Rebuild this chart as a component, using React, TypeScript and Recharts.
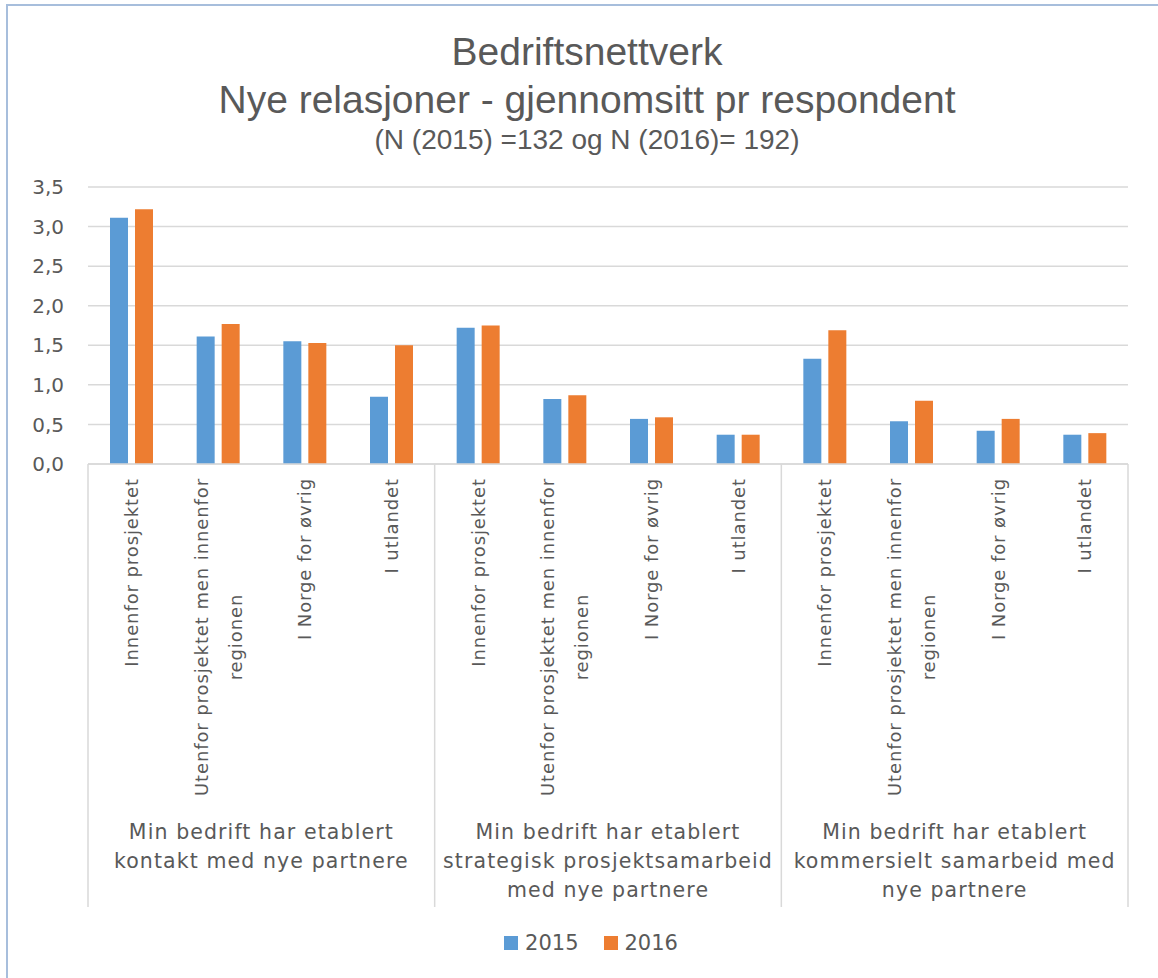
import React from 'react';
import { BarChart, Bar, XAxis, YAxis, CartesianGrid, Legend } from 'recharts';

const titleLines = [
  'Bedriftsnettverk',
  'Nye relasjoner - gjennomsitt pr respondent',
  '(N (2015) =132 og N (2016)= 192)',
];
const groupLabels: string[][] = [
  ['Min bedrift har etablert', 'kontakt med nye partnere'],
  ['Min bedrift har etablert', 'strategisk prosjektsamarbeid', 'med nye partnere'],
  ['Min bedrift har etablert', 'kommersielt samarbeid med', 'nye partnere'],
];
const subCategories: string[][] = [
  ['Innenfor prosjektet'],
  ['Utenfor prosjektet men innenfor', 'regionen'],
  ['I Norge for øvrig'],
  ['I utlandet'],
];
const seriesNames = ['2015', '2016'];
const values2015 = [3.11, 1.61, 1.55, 0.85, 1.72, 0.82, 0.57, 0.37, 1.33, 0.54, 0.42, 0.37];
const values2016 = [3.22, 1.77, 1.53, 1.5, 1.75, 0.87, 0.59, 0.37, 1.69, 0.8, 0.57, 0.39];
const yTicks = [0, 0.5, 1, 1.5, 2, 2.5, 3, 3.5];

const COLORS = ['#5B9BD5', '#ED7D31'];
const TEXT = '#595959';
const GRID = '#d9d9d9';
const BODY_FONT = '"DejaVu Sans", "Open Sans", sans-serif';
const TITLE_FONT = '"Liberation Sans Narrow", "Arial Narrow", "Liberation Sans", sans-serif';
const CAT_SIZE = 18;
const CAT_SPACING = 0.9;
const GROUP_SIZE = 20.5;
const GROUP_SPACING = 1.1;

const data = values2015.map((v, i) => ({
  key: 'c' + i,
  v2015: v,
  v2016: values2016[i],
}));

let ctx: CanvasRenderingContext2D | null = null;
function measure(text: string, size: number, spacing: number): number {
  if (!ctx) {
    const c = document.createElement('canvas');
    ctx = c.getContext('2d');
  }
  const extra = spacing * text.length;
  if (!ctx) return text.length * size * 0.6 + extra;
  ctx.font = `${size}px ${BODY_FONT}`;
  return ctx.measureText(text).width + extra;
}

const CategoryTick = (props: any) => {
  const { x, y, payload } = props;
  const idx: number = payload?.index ?? props.index ?? 0;
  const half: number = payload?.offset ?? 43.33;
  const lines = subCategories[idx % 4];
  const maxLen = Math.max(...lines.map((l) => measure(l, CAT_SIZE, CAT_SPACING)));
  const top = y + 14;
  const cy = top + maxLen / 2;
  const lineGap = 34;
  const sepLen = 443;
  const elems: React.ReactNode[] = [];
  lines.forEach((l, j) => {
    const cx = x + (j - (lines.length - 1) / 2) * lineGap;
    elems.push(
      <text
        key={'t' + j}
        transform={`translate(${cx}, ${cy}) rotate(-90)`}
        textAnchor="middle"
        dominantBaseline="central"
        fontSize={CAT_SIZE}
        letterSpacing={CAT_SPACING}
        fill={TEXT}
        fontFamily={BODY_FONT}
      >
        {l}
      </text>
    );
  });
  if (idx % 4 === 0) {
    elems.push(<line key="sepL" x1={x - half} x2={x - half} y1={y} y2={y + sepLen} stroke={GRID} strokeWidth={1.5} />);
  }
  if (idx === data.length - 1) {
    elems.push(<line key="sepR" x1={x + half} x2={x + half} y1={y} y2={y + sepLen} stroke={GRID} strokeWidth={1.5} />);
  }
  if (idx % 4 === 1) {
    const g = groupLabels[Math.floor(idx / 4)];
    g.forEach((l, j) => {
      elems.push(
        <text
          key={'g' + j}
          x={x + half}
          y={y + 368 + j * 29}
          textAnchor="middle"
          dominantBaseline="central"
          fontSize={GROUP_SIZE}
          letterSpacing={GROUP_SPACING}
          fill={TEXT}
          fontFamily={BODY_FONT}
        >
          {l}
        </text>
      );
    });
  }
  return <g>{elems}</g>;
};

const LegendContent = () => (
  <div style={{ height: 60, paddingTop: 23, paddingLeft: 54, boxSizing: 'border-box', display: 'flex', justifyContent: 'center', alignItems: 'flex-start' }}>
    {seriesNames.map((n, i) => (
      <div key={n} style={{ display: 'flex', alignItems: 'center', marginRight: i === 0 ? 25 : 0, height: 22 }}>
        <div style={{ width: 14, height: 14, background: COLORS[i], marginRight: 7 }} />
        <span style={{ fontFamily: BODY_FONT, fontSize: 21, color: TEXT, lineHeight: '22px' }}>{n}</span>
      </div>
    ))}
  </div>
);

export default function App() {
  return (
    <div style={{ position: 'absolute', left: 0, top: 0, width: 1158, height: 978, background: '#fff', overflow: 'hidden' }}>
      <div
        style={{
          position: 'absolute',
          left: 6,
          top: 4,
          width: 1160,
          height: 990,
          borderTop: '2px solid #a7bedc',
          borderLeft: '2px solid #a7bedc',
          boxSizing: 'border-box',
        }}
      />
      <div style={{ position: 'absolute', left: 0, top: 0, width: 1158, textAlign: 'center', color: TEXT, fontFamily: TITLE_FONT }}>
        <div style={{ position: 'absolute', left: 0, width: 1174, top: 28, fontSize: 39, lineHeight: '48px' }}>{titleLines[0]}</div>
        <div style={{ position: 'absolute', left: 0, width: 1174, top: 76, fontSize: 39, lineHeight: '48px' }}>{titleLines[1]}</div>
        <div style={{ position: 'absolute', left: 0, width: 1174, top: 122, fontSize: 28, lineHeight: '36px' }}>{titleLines[2]}</div>
      </div>
      <div style={{ position: 'absolute', left: 0, top: 0 }}>
        <BarChart
          width={1158}
          height={978}
          data={data}
          margin={{ top: 187, right: 30, left: 0, bottom: 9 }}
          barSize={18}
          barGap={7}
        >
          <CartesianGrid vertical={false} stroke={GRID} strokeWidth={1.5} />
          <XAxis
            dataKey="key"
            interval={0}
            height={445}
            tickSize={0}
            tickMargin={0}
            axisLine={{ stroke: GRID, strokeWidth: 1.5 }}
            tickLine={false}
            tick={<CategoryTick />}
          />
          <YAxis
            width={88}
            domain={[0, 3.5]}
            ticks={yTicks}
            axisLine={false}
            tickLine={false}
            tickMargin={18}
            tick={{ fill: TEXT, fontSize: 20, fontFamily: BODY_FONT }}
            tickFormatter={(v: number) => v.toFixed(1).replace('.', ',')}
          />
          <Legend verticalAlign="bottom" content={<LegendContent />} />
          <Bar dataKey="v2015" name={seriesNames[0]} fill={COLORS[0]} isAnimationActive={false} />
          <Bar dataKey="v2016" name={seriesNames[1]} fill={COLORS[1]} isAnimationActive={false} />
        </BarChart>
      </div>
    </div>
  );
}
